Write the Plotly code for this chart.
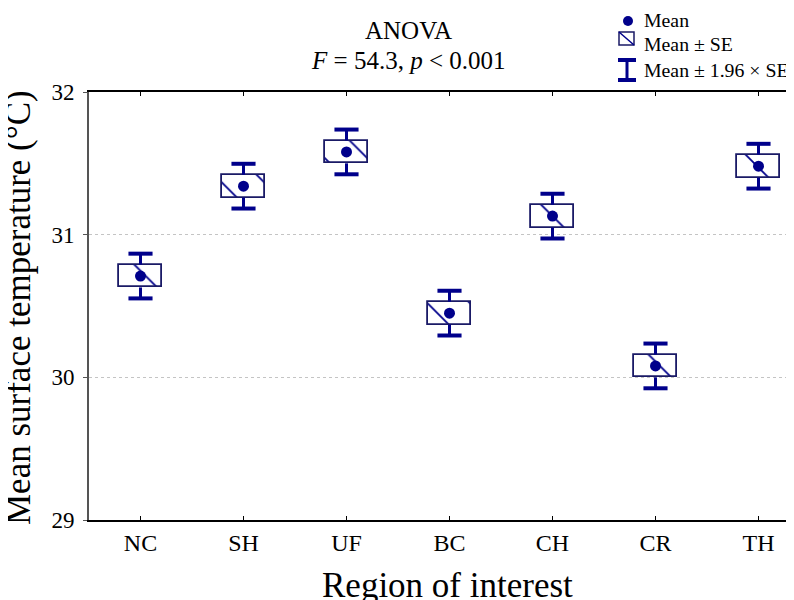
import plotly.graph_objects as go

categories = ["NC", "SH", "UF", "BC", "CH", "CR", "TH"]
means = [30.71, 31.34, 31.58, 30.45, 31.13, 30.08, 31.48]
se = [0.08, 0.08, 0.08, 0.08, 0.08, 0.08, 0.08]
y_ticks = [29, 30, 31, 32]

NAVY = "#00008B"
BOXLINE = "#1a1a66"
FONT = "Liberation Serif"

OFF = 8  # page body margin
W, H = 794 - OFF, 600 - OFF
L, R, T, B = 89 - OFF, 0, 92 - OFF, 80
PW, PH = W - L - R, H - T - B

def px(x):
    return (x - OFF - L) / PW

def py(y):
    return (H - B - (y - OFF)) / PH

xs = list(range(len(categories)))
box_w = 0.41
cap_hw = 0.117

fig = go.Figure()

wx, wy = [], []
cx, cy = [], []
for i, (m, s) in enumerate(zip(means, se)):
    wx += [i, i, None, i, i, None]
    wy += [m + s, m + 1.96 * s, None, m - s, m - 1.96 * s, None]
    cx += [i - cap_hw, i + cap_hw, None, i - cap_hw, i + cap_hw, None]
    cy += [m + 1.96 * s, m + 1.96 * s, None, m - 1.96 * s, m - 1.96 * s, None]

fig.add_trace(go.Bar(
    x=xs, y=[2 * s for s in se], base=[m - s for m, s in zip(means, se)],
    width=box_w,
    marker=dict(color="white", line=dict(color=BOXLINE, width=1.8),
                pattern=dict(shape="\\", fgcolor=NAVY, bgcolor="white",
                             fgopacity=1, fillmode="replace",
                             size=30, solidity=0.06)),
    showlegend=False, hoverinfo="skip"))

fig.add_trace(go.Scatter(x=wx, y=wy, mode="lines",
                         line=dict(color=NAVY, width=3), showlegend=False,
                         hoverinfo="skip"))
fig.add_trace(go.Scatter(x=cx, y=cy, mode="lines",
                         line=dict(color=NAVY, width=4), showlegend=False,
                         hoverinfo="skip"))
fig.add_trace(go.Scatter(x=xs, y=means, mode="markers",
                         marker=dict(color=NAVY, size=11, line=dict(width=0)),
                         showlegend=False))

shapes = []
shapes.append(dict(type="circle", xref="paper", yref="paper",
                   x0=px(623), x1=px(633), y0=py(26), y1=py(16),
                   fillcolor=NAVY, line=dict(width=0)))
shapes.append(dict(type="rect", xref="paper", yref="paper",
                   x0=px(619), x1=px(634), y0=py(45), y1=py(32),
                   fillcolor="white", line=dict(color=BOXLINE, width=1.5)))
shapes.append(dict(type="line", xref="paper", yref="paper",
                   x0=px(619), x1=px(634), y0=py(32), y1=py(45),
                   line=dict(color=NAVY, width=1.5)))
shapes.append(dict(type="line", xref="paper", yref="paper",
                   x0=px(618), x1=px(636), y0=py(60), y1=py(60),
                   line=dict(color=NAVY, width=4)))
shapes.append(dict(type="line", xref="paper", yref="paper",
                   x0=px(618), x1=px(636), y0=py(80), y1=py(80),
                   line=dict(color=NAVY, width=4)))
shapes.append(dict(type="line", xref="paper", yref="paper",
                   x0=px(627), x1=px(627), y0=py(60), y1=py(80),
                   line=dict(color=NAVY, width=3)))

legend_texts = ["Mean", "Mean ± SE", "Mean ± 1.96 × SE"]
legend_y = [20, 44, 70]
annotations = []
for t, yy in zip(legend_texts, legend_y):
    annotations.append(dict(text=t, xref="paper", yref="paper", x=px(642), y=py(yy),
                            xanchor="left", yanchor="middle", showarrow=False,
                            font=dict(family=FONT, size=19.8, color="black")))

annotations.append(dict(text="ANOVA", xref="paper", yref="paper", x=px(408), y=py(30),
                        xanchor="center", yanchor="middle", showarrow=False,
                        font=dict(family=FONT, size=25, color="black")))
annotations.append(dict(text="<i>F</i> = 54.3, <i>p</i> &lt; 0.001", xref="paper", yref="paper",
                        x=px(408), y=py(60), xanchor="center", yanchor="middle",
                        showarrow=False, font=dict(family=FONT, size=25, color="black")))
annotations.append(dict(text="Region of interest", xref="paper", yref="paper",
                        x=px(448), y=py(585), xanchor="center", yanchor="middle",
                        showarrow=False, font=dict(family=FONT, size=35, color="black")))
annotations.append(dict(text="Mean surface temperature (°C)", xref="paper", yref="paper",
                        x=px(18), y=py(308), xanchor="center", yanchor="middle",
                        textangle=-90, showarrow=False,
                        font=dict(family=FONT, size=35, color="black")))

fig.update_layout(
    width=W, height=H,
    margin=dict(l=L, r=R, t=T, b=B, pad=0),
    plot_bgcolor="white", paper_bgcolor="white",
    shapes=shapes, annotations=annotations,
    showlegend=False, bargap=0,
    font=dict(family=FONT, color="black"),
)
fig.update_xaxes(
    range=[-0.5, PW / 103.0 - 0.5], tickmode="array", tickvals=xs,
    ticktext=categories, showgrid=False, zeroline=False,
    showline=True, linecolor="black", linewidth=1.5, mirror="ticks",
    ticks="inside", ticklen=4, tickwidth=1, tickcolor="black",
    tickfont=dict(family=FONT, size=24, color="black"),
)
fig.update_yaxes(
    range=[29, 32], tickmode="array", tickvals=y_ticks,
    showgrid=True, gridcolor="#c4c4c4", griddash="dot", gridwidth=1,
    zeroline=False, showline=True, linecolor="#555555", linewidth=2,
    ticks="outside", ticklen=4, tickwidth=1, tickcolor="#555555",
    ticklabelstandoff=4,
    tickfont=dict(family=FONT, size=23, color="black"),
)

fig.write_html("out.html")
